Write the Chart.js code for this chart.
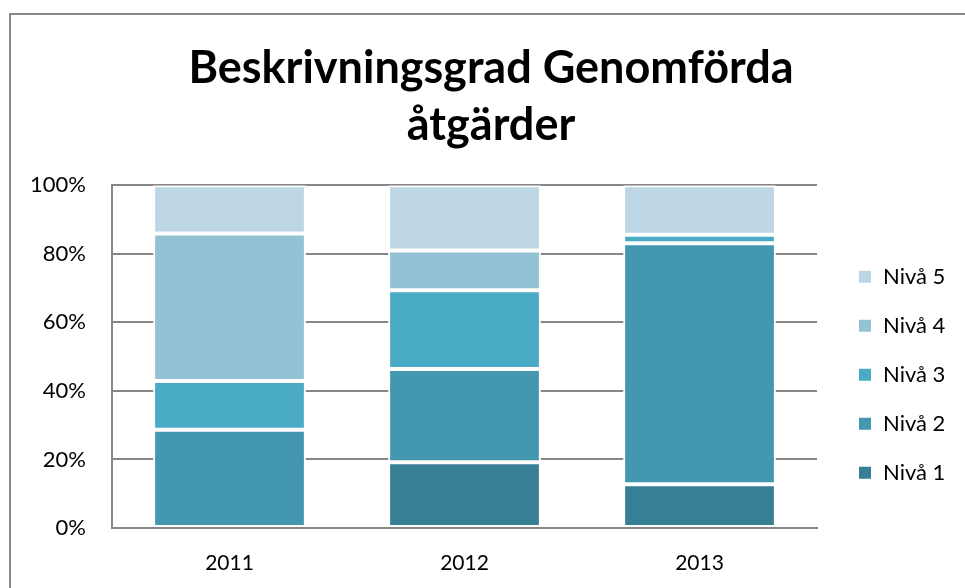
<!DOCTYPE html>
<html>
<head>
<meta charset="utf-8">
<script src="https://cdn.jsdelivr.net/npm/chart.js@4"></script>
<style>
  html, body { margin: 0; padding: 0; background: #fff; overflow: hidden; }
  #frame { position: absolute; left: 9px; top: 13px; width: 1000px; height: 620px;
           border-left: 2px solid #888; border-top: 2px solid #888; }
  #wrap { position: absolute; left: 0; top: 0; width: 982px; height: 588px; }
</style>
</head>
<body>
<div id="frame"></div>
<div id="wrap"><canvas id="chart"></canvas></div>
<script>
// data (percent of each year)
var years = ["2011", "2012", "2013"];
var niva1 = [0, 19.2, 12.8];
var niva2 = [28.7, 27.2, 70.3];
var niva3 = [14.2, 23.0, 2.5];
var niva4 = [43.0, 11.6, 0];
var niva5 = [14.1, 19.0, 14.4];
var seriesNames = ["Nivå 1", "Nivå 2", "Nivå 3", "Nivå 4", "Nivå 5"];
var yTicks = [0, 20, 40, 60, 80, 100];

var colors = ["#377F94", "#4398B0", "#4AABC6", "#93C2D4", "#BCD7E3"];
var gridGray = "#878787";

var values = [niva1, niva2, niva3, niva4, niva5];
var datasets = values.map(function (v, i) {
	return {
		label: seriesNames[i],
		data: v,
		backgroundColor: colors[i],
		borderColor: "#ffffff",
		borderWidth: 2,
		borderSkipped: false,
		categoryPercentage: 0.65,
		barPercentage: 1
	};
});

// legend box: fixed width, items a bit away from the plot and a bit below its middle
var legendWidth = 165;
var legendGap = 41;
var legendDrop = 18;

var legendPlacer = {
	id: "legendPlacer",
	beforeLayout: function (chart) {
		var lg = chart.legend;
		if (lg && !lg._fixedFit) {
			var fit = lg.fit;
			lg.fit = function () {
				fit.call(this);
				this.width = legendWidth;
			};
			lg._fixedFit = true;
		}
	},
	afterLayout: function (chart) {
		var lg = chart.legend;
		var area = chart.chartArea;
		var lab = lg.options.labels;
		var pad = lab.padding;
		var itemH = Math.max(lab.boxHeight, Chart.helpers.toFont(lab.font).size);
		var n = lg.legendItems.length;
		var stackH = n * itemH + (n - 1) * pad;
		var mid = (area.top + area.bottom) / 2 + legendDrop;
		var w = lg.right - lg.left;
		var h = lg.bottom - lg.top;
		lg.left = area.right + legendGap - pad;
		lg.right = lg.left + w;
		lg.top = mid - stackH / 2 - pad;
		lg.bottom = lg.top + h;
	}
};

new Chart(document.getElementById("chart"), {
	type: "bar",
	data: { labels: years, datasets: datasets },
	plugins: [legendPlacer],
	options: {
		responsive: true,
		maintainAspectRatio: false,
		animation: false,
		layout: { padding: 0 },
		plugins: {
			title: {
				display: true,
				text: ["Beskrivningsgrad Genomförda", "åtgärder"],
				color: "#000",
				font: { family: "Lato", size: 45, weight: "bold", lineHeight: 1.27 },
				padding: { top: 40, bottom: 31 }
			},
			legend: {
				position: "right",
				align: "start",
				reverse: true,
				labels: {
					color: "#000",
					font: { family: "Lato", size: 22 },
					boxWidth: 14,
					boxHeight: 14,
					padding: 27
				}
			},
			tooltip: { enabled: false }
		},
		scales: {
			x: {
				stacked: true,
				grid: { display: false },
				border: { display: true, color: gridGray, width: 2 },
				ticks: { color: "#000", font: { family: "Lato", size: 21 }, padding: 15 },
				afterFit: function (scale) { scale.height = 60; }
			},
			y: {
				stacked: true,
				min: 0,
				max: 100,
				afterBuildTicks: function (scale) {
					scale.ticks = yTicks.map(function (t) { return { value: t }; });
				},
				grid: { color: gridGray, lineWidth: 2, drawTicks: false },
				border: { display: true, color: gridGray, width: 2 },
				ticks: {
					color: "#000",
					font: { family: "Lato", size: 22 },
					padding: 26,
					callback: function (v) { return v + "%"; }
				},
				afterFit: function (scale) { scale.width = 112; }
			}
		}
	}
});
</script>
</body>
</html>
